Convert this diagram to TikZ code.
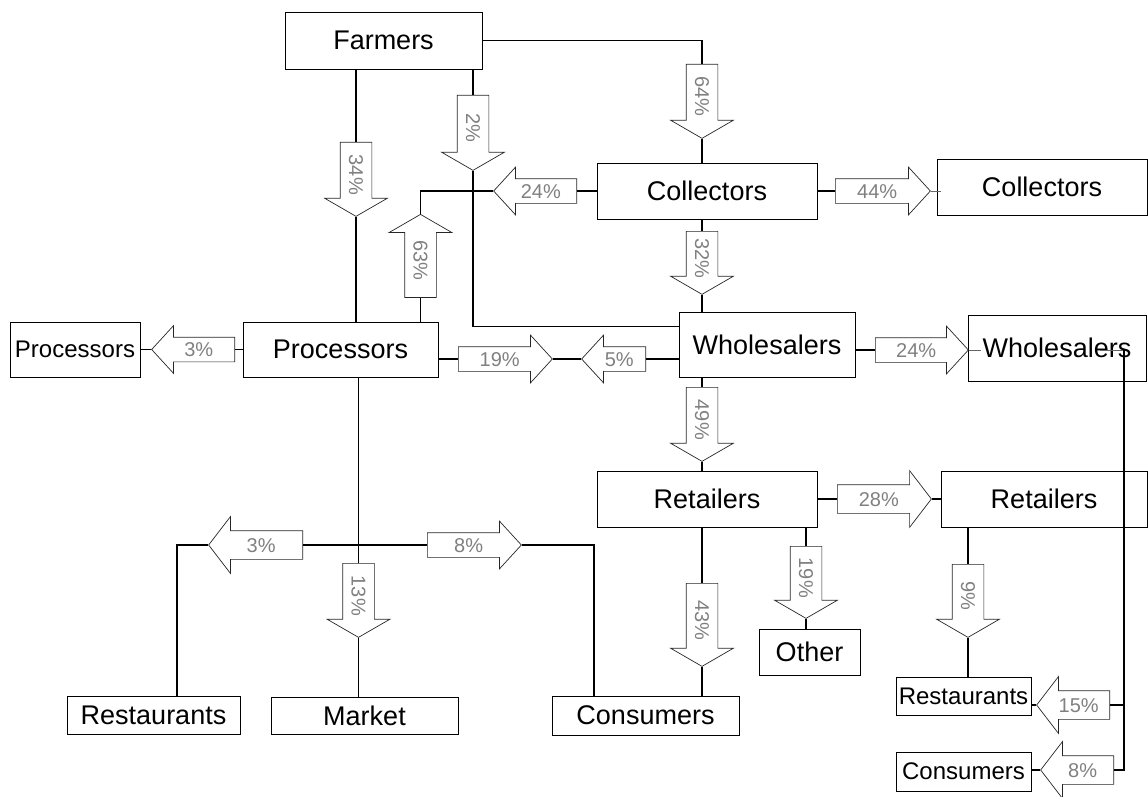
\documentclass[tikz,border=0pt]{standalone}
\usepackage{fontspec}
\setmainfont{Liberation Sans}
\usetikzlibrary{shapes.arrows}

\newcommand{\boxfont}{\fontsize{27}{30}\selectfont}
\newcommand{\smallboxfont}{\fontsize{24}{27}\selectfont}
\newcommand{\flowfont}{\fontsize{20}{22}\selectfont}

\tikzset{
  box/.style={draw, line width=0.9pt, inner sep=0pt, font=\boxfont},
  link/.style={line width=1.5pt},
  thinlink/.style={line width=0.8pt, draw=black!60},
  flow/.style={single arrow, draw=black!85, line width=0.7pt, text=black!50,
    font=\flowfont, inner xsep=0pt, text height=14pt, text depth=0pt,
    single arrow head indent=0pt},
  vflow/.style={flow, rotate=-90, inner ysep=8.5pt,
    single arrow head extend=15.5pt, single arrow tip angle=120},
  uflow/.style={vflow, shape border rotate=180},
  hflow/.style={flow, inner ysep=5pt,
    single arrow head extend=11.5pt, single arrow tip angle=95},
  lflow/.style={hflow, shape border rotate=180},
  wide/.style={inner ysep=7pt, single arrow head extend=14pt, single arrow tip angle=105},
}

\begin{document}
\begin{tikzpicture}[x=1pt, y=-1pt]
\useasboundingbox (0,0) rectangle (1148,797);

% boxes
\node[box, minimum width=197pt, minimum height=57pt] (farmers) at (383.5,40.5) {Farmers};
\node[box, minimum width=220pt, minimum height=56pt] (coll) at (707,191) {Collectors};
\node[box, minimum width=210pt, minimum height=56pt] (coll2) at (1042,187) {Collectors};
\node[box, minimum width=195pt, minimum height=55pt] (proc) at (340.5,349.5) {Processors};
\node[box, font=\smallboxfont, minimum width=130pt, minimum height=55pt] (proc2) at (75,349.5) {Processors};
\node[box, minimum width=176pt, minimum height=65pt] (whole) at (767,344.5) {Wholesalers};
\node[box, minimum width=178pt, minimum height=66pt] (whole2) at (1057,348) {Wholesalers};
\node[box, minimum width=220pt, minimum height=56pt] (ret) at (707,499) {Retailers};
\node[box, minimum width=206pt, minimum height=56pt] (ret2) at (1044,499) {Retailers};
\node[box, minimum width=101pt, minimum height=46pt] (other) at (809.5,652) {Other};
\node[box, minimum width=187pt, minimum height=39pt] (cons) at (645.5,715.5) {Consumers};
\node[box, minimum width=187pt, minimum height=37pt] (market) at (364.5,715.5) {Market};
\node[box, minimum width=173pt, minimum height=38pt] (rest) at (153.5,715) {Restaurants};
\node[box, font=\smallboxfont, minimum width=135pt, minimum height=38pt] (rest2) at (963.5,696) {Restaurants};
\node[box, font=\smallboxfont, minimum width=135pt, minimum height=39pt] (cons2) at (963.5,771.5) {Consumers};

% flow arrows
\node[vflow, minimum height=74pt, anchor=tail] (a64) at (702,64) {64\%};
\node[vflow, minimum height=75pt, anchor=tail] (a2) at (473,95) {2\%};
\node[vflow, minimum height=74pt, anchor=tail] (a34) at (356,142) {34\%};
\node[uflow, minimum height=83pt, anchor=tip] (a63) at (420.5,214) {63\%};
\node[vflow, minimum height=63pt, anchor=tail] (a32) at (702,231) {32\%};
\node[vflow, minimum height=74pt, anchor=tail] (a49) at (702,387) {49\%};
\node[vflow, minimum height=83pt, anchor=tail] (a43) at (702,583) {43\%};
\node[vflow, minimum height=72pt, anchor=tail] (a19) at (806,546) {19\%};
\node[vflow, minimum height=73pt, anchor=tail] (a9) at (968,564) {9\%};
\node[vflow, minimum height=74pt, anchor=tail] (a13) at (358.5,563) {13\%};

\node[lflow, minimum height=83pt, anchor=tail] (a24) at (577,191) {24\%};
\node[hflow, minimum height=95pt, anchor=tail] (a44) at (835,191) {44\%};
\node[lflow, minimum height=83pt, anchor=tail] (a3) at (235,349.5) {3\%};
\node[hflow, minimum height=94pt, anchor=tail] (a19h) at (458,359) {19\%};
\node[lflow, minimum height=64pt, anchor=tail] (a5) at (646,359) {5\%};
\node[hflow, minimum height=93pt, anchor=tail] (a24r) at (875,350) {24\%};
\node[hflow, wide, minimum height=94pt, anchor=tail] (a28) at (837,499) {28\%};
\node[lflow, wide, minimum height=94pt, anchor=tail] (a3b) at (303,545) {3\%};
\node[hflow, minimum height=94pt, anchor=tail] (a8) at (427,545) {8\%};
\node[lflow, wide, minimum height=73pt, anchor=tail] (a15) at (1110,705) {15\%};
\node[lflow, wide, minimum height=73pt, anchor=tail] (a8b) at (1114,770) {8\%};

\coordinate (wdrop) at (1124,350);

% connectors
\draw[link] (farmers.east) -| (a64.tail);
\draw[link] (a64.tip) -- (a64.tip |- coll.north);
\draw[link] (a34.tail |- farmers.south) -- (a34.tail);
\draw[link] (a34.tip) -- (a34.tip |- proc.north);
\draw[link] (a2.tail |- farmers.south) -- (a2.tail);
\draw[link] (a2.tip) |- ([yshift=-15pt]whole.north west);
\draw[link] (coll.west) -- (a24.tail);
\draw[link] (a24.tip) -| (a63.tip);
\draw[link] (a63.tail) -- (a63.tail |- proc.north);
\draw[link] (coll.east) -- (a44.tail);
\draw[thinlink] (a44.tip) -- ([xshift=4pt]a44.tip -| coll2.west);
\draw[link] (coll.south -| a32.tail) -- (a32.tail);
\draw[link] (a32.tip) -- (a32.tip |- whole.north);
\draw[link] (proc.west) -- (a3.tail);
\draw[link] (a3.tip) -- (proc2.east);
\draw[link] (a19h.tail -| proc.east) -- (a19h.tail);
\draw[link] (a19h.tip) -- (a5.tip);
\draw[link] (a5.tail) -- (a5.tail -| whole.west);
\draw[link] (a24r.tail -| whole.east) -- (a24r.tail);
\draw[thinlink] (a24r.tip) -- ([xshift=13pt]a24r.tip -| whole2.west);
\draw[thinlink] ([xshift=-24pt]wdrop) -- (wdrop);
\draw[link] (wdrop) |- (a8b.tail);
\draw[link] (a15.tail) -- (a15.tail -| wdrop);
\draw[link] (a15.tip) -- (a15.tip -| rest2.east);
\draw[link] (a8b.tip) -- (a8b.tip -| cons2.east);
\draw[link] (whole.south -| a49.tail) -- (a49.tail);
\draw[link] (a49.tip) -- (a49.tip |- ret.north);
\draw[link] (ret.east) -- (a28.tail);
\draw[link] (a28.tip) -- (ret2.west);
\draw[link] (ret.south -| a43.tail) -- (a43.tail);
\draw[link] (a43.tip) -- (a43.tip |- cons.north);
\draw[link] (ret.south -| a19.tail) -- (a19.tail);
\draw[link] (a19.tip) -- (a19.tip |- other.north);
\draw[link] (ret2.south -| a9.tail) -- (a9.tail);
\draw[link] (a9.tip) -- (a9.tip |- rest2.north);
\draw[link] (proc.south -| a13.tail) -- (a13.tail);
\draw[link] (a13.tip) -- (a13.tip |- market.north);
\draw[link] (a3b.tail) -- (a8.tail);
\draw[link] (a3b.tip) -| ([xshift=23.5pt]rest.north);
\draw[link] (a8.tip) -| ([xshift=-51.5pt]cons.north);
\end{tikzpicture}
\end{document}
